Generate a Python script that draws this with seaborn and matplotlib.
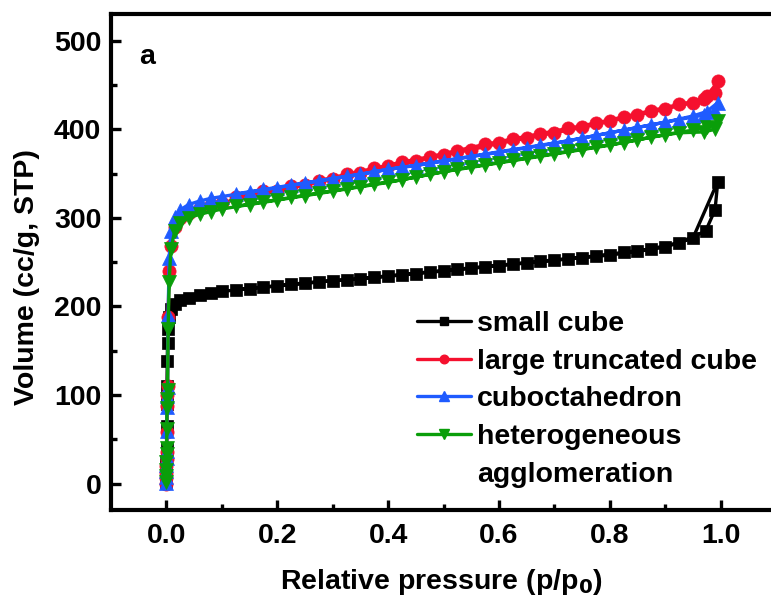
import matplotlib
matplotlib.use('Agg')
import matplotlib.pyplot as plt
import seaborn as sns
from matplotlib.lines import Line2D

# relative pressure points (adsorption branch, shared by the three octahedral samples)
p_ads = [0.00001, 0.00003, 0.00006, 0.0001, 0.0002, 0.0004, 0.0007, 0.001, 0.0015, 0.002,
         0.003, 0.005, 0.008, 0.015, 0.025, 0.04, 0.06, 0.08, 0.1,
         0.15, 0.2, 0.25, 0.3, 0.35, 0.4, 0.45, 0.5, 0.55, 0.6, 0.65, 0.7, 0.75, 0.8,
         0.85, 0.9, 0.95, 0.975, 0.995]
p_des = [0.99, 0.97, 0.925, 0.875, 0.825, 0.775, 0.725, 0.675, 0.625, 0.575, 0.525,
         0.475, 0.425, 0.375, 0.325, 0.275, 0.225, 0.175, 0.125]

# small cube
sc_p_ads = [0.00001, 0.00003, 0.00006, 0.0001, 0.0002, 0.0004, 0.0007, 0.001, 0.0015, 0.002,
            0.003, 0.005, 0.008, 0.015, 0.025, 0.04, 0.06, 0.08, 0.1,
            0.15, 0.2, 0.25, 0.3, 0.35, 0.4, 0.45, 0.5, 0.55, 0.6, 0.65, 0.7, 0.75, 0.8,
            0.85, 0.9, 0.95, 0.995]
sc_v_ads = [2, 6, 12, 25, 40, 65, 90, 110, 138, 159,
            175, 188, 197, 203, 207, 210, 213, 215, 217,
            220, 223, 226, 229, 231, 234, 237, 240, 243, 246, 249, 252, 255, 258,
            262, 267, 277, 341]
sc_p_des = [0.99, 0.973, 0.925, 0.875, 0.825, 0.775, 0.725, 0.675, 0.625, 0.575, 0.525,
            0.475, 0.425, 0.375, 0.325, 0.275, 0.225, 0.175, 0.125]
sc_v_des = [309, 285, 272, 265, 261, 257, 254, 251, 248, 245, 242,
            239, 236, 233, 230, 228, 225, 222, 219]

# large truncated cube
ltc_v_ads = [0, 6, 12, 20, 28, 36, 58, 88, 100, 110,
             188, 240, 268, 290, 300, 306, 311, 314, 317,
             324, 330, 337, 344, 351, 358, 364, 371, 377, 384, 390, 396, 402, 409,
             416, 423, 430, 437, 454]
ltc_v_des = [441, 434, 428, 421, 414, 407, 401, 395, 389, 383, 376,
             369, 363, 356, 349, 342, 336, 330, 323]

# cuboctahedron
cub_v_ads = [1, 7, 14, 21, 29, 37, 59, 87, 99, 109,
             190, 255, 285, 301, 309, 315, 319, 322, 324,
             329, 334, 339, 344, 349, 355, 359, 364, 369, 374, 379, 384, 390, 396,
             402, 408, 415, 420, 430]
cub_v_des = [421, 416, 411, 405, 399, 393, 387, 382, 377, 372, 367,
             362, 357, 352, 347, 342, 337, 332, 327]

# heterogeneous agglomeration
ha_v_ads = [2, 8, 15, 24, 33, 40, 62, 85, 96, 106,
            175, 228, 265, 285, 294, 300, 304, 307, 310,
            315, 320, 325, 330, 335, 340, 346, 352, 357, 362, 367, 372, 377, 382,
            388, 394, 399, 403, 409]
ha_v_des = [400, 397, 396, 391, 385, 380, 375, 370, 365, 360, 355,
            349, 343, 338, 333, 328, 323, 318, 313]

labels = ['small cube', 'large truncated cube', 'cuboctahedron', 'heterogeneous']
colors = ['black', '#F5102E', '#1F5BFF', '#0A9E0A']
markers = ['s', 'o', '^', 'v']
msizes = [8, 9.5, 10, 10]

series = [
    (sc_p_ads + sc_p_des, sc_v_ads + sc_v_des),
    (p_ads + p_des, ltc_v_ads + ltc_v_des),
    (p_ads + p_des, cub_v_ads + cub_v_des),
    (p_ads + p_des, ha_v_ads + ha_v_des),
]

sns.set_style('ticks')
plt.rcParams['font.family'] = ['Liberation Sans', 'DejaVu Sans']
plt.rcParams['font.weight'] = 'bold'
plt.rcParams['mathtext.default'] = 'bf'
for k in ['text.color', 'axes.labelcolor', 'xtick.color', 'ytick.color', 'axes.edgecolor']:
    plt.rcParams[k] = 'black'

fig = plt.figure(figsize=(7.71, 6.03), dpi=100)
ax = fig.add_axes([0.144, 0.154, 0.856, 0.8226])

for (x, y), c, m, ms in zip(series, colors, markers, msizes):
    sns.lineplot(x=x, y=y, sort=False, estimator=None, color=c, marker=m,
                 markersize=ms, markeredgecolor=c, markeredgewidth=0.5,
                 linewidth=2.4, ax=ax)

ax.set_xlim(-0.1, 1.091)
ax.set_ylim(-30, 530)
ax.set_xticks([0.0, 0.2, 0.4, 0.6, 0.8, 1.0])
ax.set_xticks([0.1, 0.3, 0.5, 0.7, 0.9], minor=True)
ax.set_yticks([0, 100, 200, 300, 400, 500])
ax.set_yticks([50, 150, 250, 350, 450], minor=True)
ax.set_xticklabels(['0.0', '0.2', '0.4', '0.6', '0.8', '1.0'])
ax.tick_params(which='both', direction='in', width=2.4, labelsize=20.5)
ax.tick_params(which='major', length=7.5)
ax.tick_params(which='minor', length=4.5)
ax.tick_params(axis='y', pad=7)
ax.tick_params(axis='x', pad=9)
for s in ['left', 'bottom', 'top']:
    ax.spines[s].set_linewidth(3)
ax.spines['right'].set_visible(False)

ax.set_xlabel(r'Relative pressure (p/p$_\mathbf{0}$)', fontsize=20.5, fontweight='bold')
ax.set_ylabel('Volume (cc/g, STP)', fontsize=20.5, fontweight='bold')
ax.xaxis.set_label_coords(0.5, -0.115)
ax.yaxis.set_label_coords(-0.108, 0.47)

ax.text(0.055, 0.913, 'a', transform=ax.transAxes, fontsize=20.5, fontweight='bold',
        ha='center', va='center')

handles = [Line2D([], [], color=c, marker=m, markersize=ms * 0.65, linewidth=2.4)
           for c, m, ms in zip(colors, markers, msizes)]
handles.append(Line2D([], [], linestyle='none'))
leg = ax.legend(handles, labels + ['agglomeration'], loc='upper left',
                bbox_to_anchor=(417 / 771, 1 - 311 / 603), bbox_transform=fig.transFigure,
                frameon=False, fontsize=20.5, handlelength=1.9, handletextpad=0.2,
                labelspacing=0.41, borderpad=0, borderaxespad=0)
for t in leg.get_texts():
    t.set_fontweight('bold')

fig.savefig('out.png', dpi=100)
